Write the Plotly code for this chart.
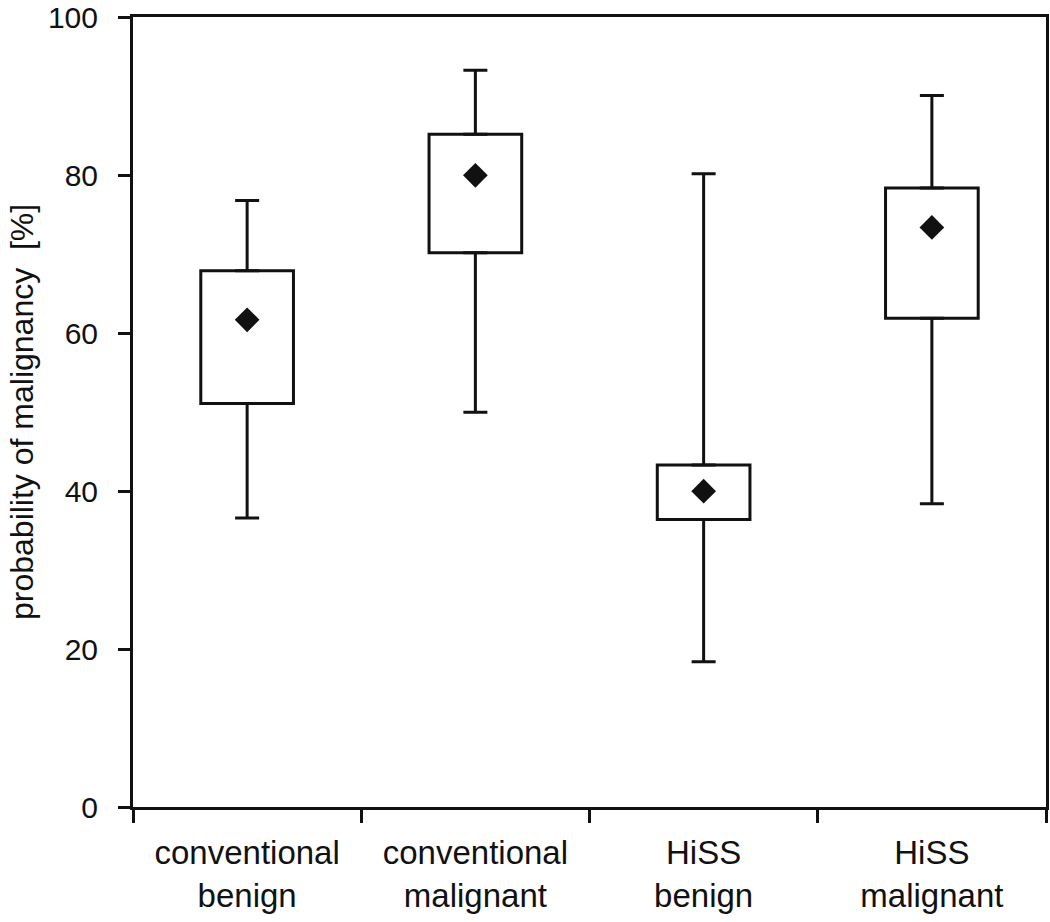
import plotly.graph_objects as go

categories = ["conventional<br>benign", "conventional<br>malignant", "HiSS<br>benign", "HiSS<br>malignant"]
whisker_low = [36.6, 50.0, 18.4, 38.4]
box_low = [51.1, 70.2, 36.4, 61.9]
mean_vals = [61.7, 80.0, 40.0, 73.4]
box_high = [67.9, 85.2, 43.3, 78.4]
whisker_high = [76.8, 93.3, 80.2, 90.1]
y_ticks = [0, 20, 40, 60, 80, 100]
y_title = "probability of malignancy\u00a0 [%]"

FONT = "Liberation Sans, Arial, sans-serif"
INK = "#111111"

fig = go.Figure()

fig.add_trace(go.Bar(
    x=categories,
    y=[h - l for h, l in zip(box_high, box_low)],
    base=box_low,
    width=0.406,
    marker=dict(color="white", line=dict(color=INK, width=3)),
    hoverinfo="skip",
))

fig.add_trace(go.Scatter(
    x=categories, y=box_high, mode="markers",
    marker=dict(color="rgba(0,0,0,0)", size=1),
    error_y=dict(type="data", symmetric=False,
                 array=[w - b for w, b in zip(whisker_high, box_high)],
                 arrayminus=[0] * len(categories),
                 color=INK, thickness=3, width=12),
    hoverinfo="skip",
))

fig.add_trace(go.Scatter(
    x=categories, y=box_low, mode="markers",
    marker=dict(color="rgba(0,0,0,0)", size=1),
    error_y=dict(type="data", symmetric=False,
                 array=[0] * len(categories),
                 arrayminus=[b - w for b, w in zip(box_low, whisker_low)],
                 color=INK, thickness=3, width=12),
    hoverinfo="skip",
))

fig.add_trace(go.Scatter(
    x=categories, y=mean_vals, mode="markers",
    marker=dict(symbol="diamond", size=19, color=INK, line=dict(width=0)),
))

fig.update_layout(
    width=1050, height=922,
    margin=dict(l=133, r=4, t=17, b=115, pad=0, autoexpand=False),
    plot_bgcolor="white", paper_bgcolor="white",
    showlegend=False,
    font=dict(family=FONT, color=INK),
    xaxis=dict(
        type="category", range=[-0.5, 3.5],
        showline=True, linewidth=3, linecolor=INK, mirror=True,
        ticks="outside", ticklen=13, tickwidth=3, tickcolor=INK,
        tickson="boundaries", showgrid=False,
        tickfont=dict(size=33, family=FONT, color=INK),
        ticklabelstandoff=14,
    ),
    yaxis=dict(
        range=[0, 100.05], tickvals=y_ticks,
        showline=True, linewidth=3, linecolor=INK, mirror=True,
        ticks="outside", ticklen=12, tickwidth=3, tickcolor=INK,
        showgrid=False, zeroline=False,
        tickfont=dict(size=30, family=FONT, color=INK),
        ticklabelstandoff=14, ticklabeloverflow="allow",
    ),
    annotations=[dict(
        text=y_title, textangle=-90,
        xref="paper", yref="paper", x=0, y=0.5,
        xanchor="center", yanchor="middle",
        xshift=-111, showarrow=False,
        font=dict(size=32, family=FONT, color=INK),
    )],
)

fig.write_html("out.html", config={"displayModeBar": False},
               post_script="document.body.style.margin='0';")
